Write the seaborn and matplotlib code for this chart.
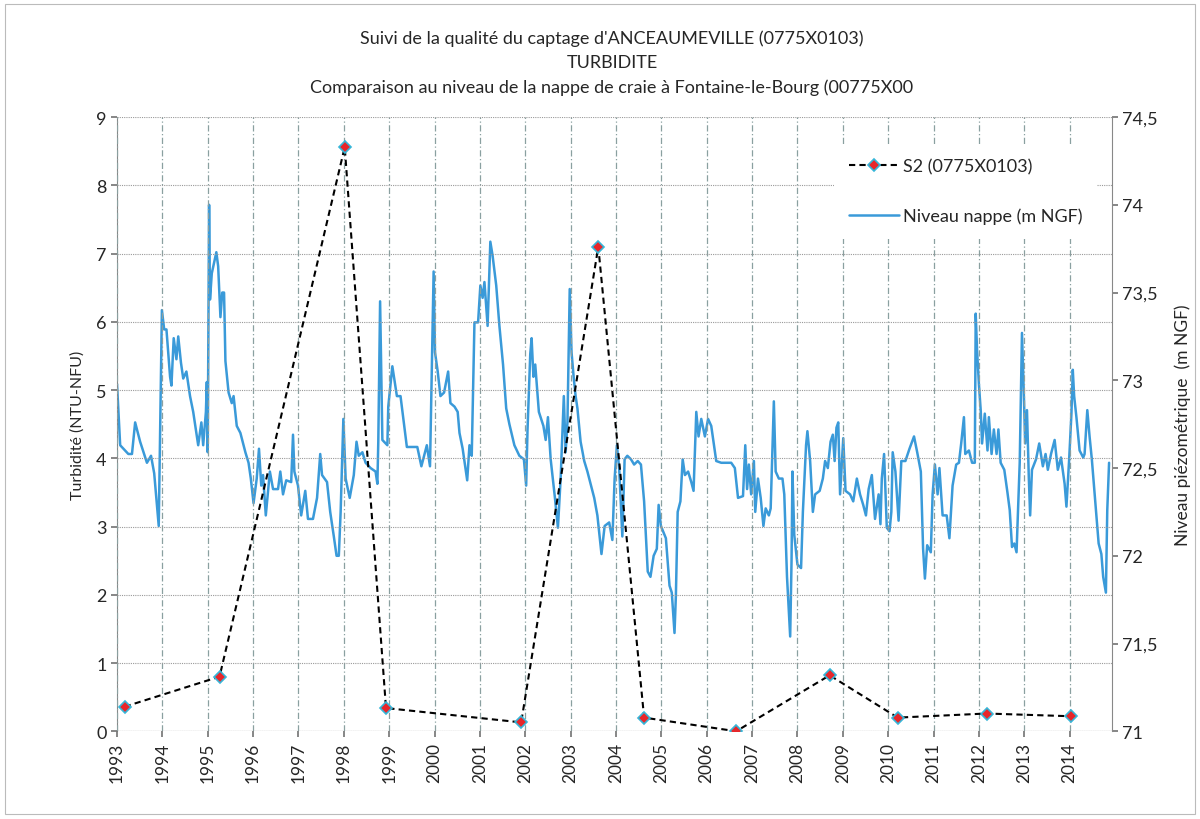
"""Turbidité du captage d'Anceaumeville vs niveau de nappe (Fontaine-le-Bourg)."""

import matplotlib
import numpy as np
import pandas as pd
import seaborn as sns
from matplotlib.ticker import FuncFormatter

matplotlib.use("Agg")
import matplotlib.pyplot as plt

# --- turbidity samples S2 (0775X0103), decimal years ---
s2_year = [1993.17, 1995.26, 1998.02, 1998.93, 2001.91, 2003.61,
           2004.62, 2006.65, 2008.71, 2010.21, 2012.17, 2014.03]
s2_ntu = [0.36, 0.80, 8.56, 0.34, 0.13, 7.10, 0.20, 0.0, 0.82, 0.20, 0.26, 0.22]

# --- piezometric level (m NGF) ---
level_year = [
    1993.00, 1993.07, 1993.25, 1993.33, 1993.40, 1993.51, 1993.66, 1993.75, 1993.82, 1993.92,
    1993.99, 1994.04, 1994.09, 1994.17, 1994.20, 1994.25, 1994.31, 1994.35, 1994.41, 1994.46,
    1994.53, 1994.61, 1994.68, 1994.75, 1994.79, 1994.86, 1994.90, 1994.96, 1994.98, 1995.00,
    1995.03, 1995.05, 1995.09, 1995.14, 1995.19, 1995.23, 1995.28, 1995.32, 1995.36, 1995.39,
    1995.46, 1995.53, 1995.57, 1995.64, 1995.72, 1995.83, 1995.90, 1995.95, 1996.01, 1996.08,
    1996.13, 1996.18, 1996.22, 1996.28, 1996.37, 1996.44, 1996.55, 1996.60, 1996.66, 1996.73,
    1996.84, 1996.88, 1996.91, 1996.99, 1997.06, 1997.15, 1997.21, 1997.32, 1997.41, 1997.48,
    1997.52, 1997.63, 1997.70, 1997.78, 1997.84, 1997.89, 1997.93, 1997.99, 1998.04, 1998.13,
    1998.22, 1998.28, 1998.33, 1998.41, 1998.48, 1998.59, 1998.70, 1998.74, 1998.76, 1998.80,
    1998.85, 1998.96, 1998.98, 1999.07, 1999.17, 1999.25, 1999.39, 1999.62, 1999.71, 1999.83,
    1999.90, 1999.98, 2000.01, 2000.07, 2000.13, 2000.21, 2000.30, 2000.35, 2000.44, 2000.51,
    2000.55, 2000.62, 2000.72, 2000.77, 2000.82, 2000.88, 2000.96, 2001.01, 2001.06, 2001.10,
    2001.17, 2001.23, 2001.28, 2001.36, 2001.43, 2001.51, 2001.58, 2001.65, 2001.76, 2001.87,
    2001.97, 2002.02, 2002.05, 2002.11, 2002.14, 2002.18, 2002.22, 2002.30, 2002.40, 2002.45,
    2002.50, 2002.56, 2002.65, 2002.72, 2002.78, 2002.82, 2002.85, 2002.89, 2002.93, 2002.98,
    2003.02, 2003.07, 2003.11, 2003.15, 2003.22, 2003.30, 2003.37, 2003.45, 2003.52, 2003.59,
    2003.68, 2003.75, 2003.85, 2003.92, 2003.97, 2004.02, 2004.07, 2004.14, 2004.19, 2004.25,
    2004.33, 2004.40, 2004.48, 2004.55, 2004.62, 2004.70, 2004.76, 2004.83, 2004.90, 2004.94,
    2004.99, 2005.10, 2005.18, 2005.23, 2005.29, 2005.32, 2005.36, 2005.42, 2005.47, 2005.52,
    2005.59, 2005.66, 2005.71, 2005.77, 2005.82, 2005.88, 2005.96, 2006.03, 2006.10, 2006.21,
    2006.32, 2006.43, 2006.54, 2006.62, 2006.69, 2006.80, 2006.85, 2006.89, 2006.93, 2006.98,
    2007.04, 2007.07, 2007.13, 2007.19, 2007.25, 2007.30, 2007.37, 2007.41, 2007.48, 2007.52,
    2007.59, 2007.67, 2007.71, 2007.77, 2007.84, 2007.87, 2007.89, 2007.93, 2008.00, 2008.08,
    2008.12, 2008.19, 2008.22, 2008.28, 2008.34, 2008.39, 2008.49, 2008.56, 2008.61, 2008.67,
    2008.73, 2008.78, 2008.82, 2008.86, 2008.90, 2008.94, 2009.01, 2009.06, 2009.16, 2009.23,
    2009.31, 2009.38, 2009.45, 2009.51, 2009.57, 2009.64, 2009.71, 2009.79, 2009.83, 2009.86,
    2009.91, 2009.97, 2010.03, 2010.07, 2010.10, 2010.16, 2010.23, 2010.29, 2010.38, 2010.47,
    2010.57, 2010.64, 2010.72, 2010.77, 2010.81, 2010.86, 2010.94, 2010.98, 2011.03, 2011.09,
    2011.13, 2011.20, 2011.29, 2011.35, 2011.42, 2011.50, 2011.56, 2011.61, 2011.67, 2011.70,
    2011.78, 2011.85, 2011.91, 2011.93, 2011.96, 2012.00, 2012.04, 2012.07, 2012.13, 2012.19,
    2012.22, 2012.28, 2012.33, 2012.39, 2012.43, 2012.48, 2012.56, 2012.63, 2012.68, 2012.73,
    2012.78, 2012.83, 2012.87, 2012.90, 2012.95, 2012.99, 2013.02, 2013.06, 2013.10, 2013.13,
    2013.17, 2013.26, 2013.33, 2013.41, 2013.47, 2013.52, 2013.59, 2013.67, 2013.74, 2013.81,
    2013.89, 2013.93, 2013.99, 2014.04, 2014.07, 2014.10, 2014.15, 2014.22, 2014.30, 2014.33,
    2014.39, 2014.44, 2014.49, 2014.55, 2014.64, 2014.70, 2014.74, 2014.80, 2014.83, 2014.87,
]
level_ngf = [
    72.98, 72.63, 72.58, 72.58, 72.76, 72.65, 72.53, 72.57, 72.47, 72.17,
    73.40, 73.29, 73.29, 73.02, 72.97, 73.24, 73.12, 73.25, 73.10, 73.01,
    73.05, 72.91, 72.82, 72.70, 72.63, 72.76, 72.63, 72.82, 72.99, 72.59,
    74.00, 73.46, 73.61, 73.67, 73.73, 73.65, 73.36, 73.50, 73.50, 73.11,
    72.93, 72.87, 72.91, 72.74, 72.70, 72.59, 72.53, 72.44, 72.30, 72.44,
    72.61, 72.40, 72.46, 72.23, 72.48, 72.38, 72.38, 72.48, 72.35, 72.43,
    72.42, 72.69, 72.48, 72.40, 72.23, 72.37, 72.21, 72.21, 72.33, 72.58,
    72.46, 72.42, 72.25, 72.11, 72.00, 72.00, 72.25, 72.78, 72.44, 72.33,
    72.46, 72.65, 72.57, 72.59, 72.53, 72.50, 72.48, 72.41, 72.65, 73.45,
    72.66, 72.63, 72.85, 73.08, 72.91, 72.91, 72.62, 72.62, 72.51, 72.63,
    72.51, 73.62, 73.16, 73.05, 72.91, 72.93, 73.05, 72.87, 72.85, 72.82,
    72.70, 72.61, 72.43, 72.63, 72.57, 73.33, 73.33, 73.54, 73.47, 73.56,
    73.31, 73.79, 73.71, 73.54, 73.31, 73.09, 72.84, 72.75, 72.63, 72.57,
    72.55, 72.40, 72.72, 73.15, 73.24, 73.02, 73.09, 72.82, 72.74, 72.66,
    72.79, 72.55, 72.34, 72.16, 72.44, 72.70, 72.91, 72.59, 72.76, 73.52,
    73.16, 73.01, 72.91, 72.84, 72.65, 72.54, 72.48, 72.40, 72.33, 72.23,
    72.01, 72.17, 72.19, 72.09, 72.44, 72.63, 72.50, 72.11, 72.55, 72.57,
    72.55, 72.52, 72.54, 72.52, 72.31, 71.91, 71.88, 72.00, 72.04, 72.29,
    72.17, 72.10, 71.83, 71.79, 71.56, 71.77, 72.25, 72.31, 72.55, 72.46,
    72.48, 72.42, 72.37, 72.82, 72.68, 72.78, 72.68, 72.78, 72.74, 72.54,
    72.53, 72.53, 72.53, 72.50, 72.33, 72.34, 72.63, 72.38, 72.52, 72.35,
    72.54, 72.25, 72.44, 72.33, 72.17, 72.27, 72.23, 72.27, 72.88, 72.48,
    72.44, 72.44, 72.35, 71.88, 71.54, 71.97, 72.48, 72.12, 71.95, 71.93,
    72.25, 72.63, 72.71, 72.54, 72.25, 72.35, 72.37, 72.44, 72.54, 72.50,
    72.65, 72.69, 72.54, 72.73, 72.76, 72.35, 72.67, 72.37, 72.35, 72.31,
    72.44, 72.35, 72.29, 72.23, 72.38, 72.46, 72.21, 72.35, 72.18, 72.44,
    72.58, 72.16, 72.14, 72.25, 72.59, 72.48, 72.20, 72.54, 72.54, 72.61,
    72.68, 72.59, 72.48, 72.04, 71.87, 72.06, 72.02, 72.35, 72.52, 72.35,
    72.50, 72.23, 72.23, 72.10, 72.40, 72.52, 72.53, 72.64, 72.79, 72.58,
    72.60, 72.53, 72.53, 73.38, 73.17, 72.98, 72.83, 72.64, 72.81, 72.60,
    72.79, 72.58, 72.72, 72.58, 72.72, 72.53, 72.49, 72.36, 72.26, 72.05,
    72.07, 72.02, 72.32, 72.53, 73.27, 72.93, 72.64, 72.83, 72.45, 72.23,
    72.49, 72.55, 72.64, 72.51, 72.58, 72.49, 72.58, 72.66, 72.49, 72.56,
    72.41, 72.28, 72.55, 72.81, 73.06, 72.91, 72.79, 72.60, 72.56, 72.58,
    72.83, 72.68, 72.55, 72.36, 72.07, 72.01, 71.88, 71.79, 72.26, 72.53,
]

year_ticks = list(range(1993, 2015))
ngf_ticks = [71, 71.5, 72, 72.5, 73, 73.5, 74, 74.5]

title_lines = [
    "Suivi de la qualité du captage d'ANCEAUMEVILLE (0775X0103)",
    "TURBIDITE",
    "Comparaison au niveau de la nappe de craie à Fontaine-le-Bourg (00775X00",
]

s2 = pd.DataFrame({"annee": s2_year, "turbidite": s2_ntu})
nappe = pd.DataFrame({"annee": level_year, "niveau": level_ngf})

sns.set_theme(style="white")
plt.rcParams["font.family"] = ["Lato", "DejaVu Sans"]

fig = plt.figure(figsize=(12, 8.2), dpi=100)
ax = fig.add_axes([0.0975, 0.107, 0.829, 0.749])
ax2 = ax.twinx()

sns.lineplot(data=nappe, x="annee", y="niveau", ax=ax2, color="#3a9ad9",
             linewidth=1.8, label="Niveau nappe (m NGF)", legend=False)
sns.lineplot(data=s2, x="annee", y="turbidite", ax=ax, color="black",
             linewidth=1.5, linestyle=(0, (3, 2)), marker="D", markersize=6,
             markerfacecolor="#e8262a", markeredgecolor="#36b6d8",
             markeredgewidth=1.2, label="S2 (0775X0103)", legend=False)

# primary axis in front so the dashed series sits over the level curve
ax.set_zorder(ax2.get_zorder() + 1)
ax.patch.set_visible(False)

ax.set_xlim(1993, 2014.93)
ax.set_ylim(0, 9)
ax2.set_ylim(71, 74.5)
ax.set_xticks(year_ticks)
ax.set_xticklabels([str(y) for y in year_ticks], rotation=90, fontsize=12.5)
ax.set_yticks(np.arange(0, 10))
ax.tick_params(axis="y", labelsize=13, length=4, left=True, color="#777777")
ax.tick_params(axis="x", length=4, bottom=True, color="#777777")
ax2.set_yticks(ngf_ticks)
ax2.yaxis.set_major_formatter(FuncFormatter(lambda v, _: f"{v:g}".replace(".", ",")))
ax2.tick_params(axis="y", labelsize=13, length=4, right=True, color="#777777")

ax.grid(axis="y", color="#9a9a9a", linewidth=0.8, linestyle=(0, (1, 1)))
ax.grid(axis="x", color="#8aa0a0", linewidth=0.9, linestyle=(0, (5, 2, 1, 2)))

for spine in ax.spines.values():
    spine.set_visible(False)
for side in ["top", "bottom"]:
    ax2.spines[side].set_visible(False)
for side in ["left", "right"]:
    ax2.spines[side].set_color("#888888")
    ax2.spines[side].set_linewidth(0.8)
ax.axhline(0, color="#888888", linewidth=0.8)

ax.set_xlabel("")
ax.set_ylabel("Turbidité (NTU-NFU)", fontsize=11.5, labelpad=8)
ax2.set_ylabel("Niveau piézométrique  (m NGF)", fontsize=12.5, labelpad=12)

for i, line in enumerate(title_lines):
    fig.text(0.51, 0.953 - i * 0.030, line, ha="center", va="center", fontsize=13)

handles = ax.get_legend_handles_labels()[0] + ax2.get_legend_handles_labels()[0]
labels = ax.get_legend_handles_labels()[1] + ax2.get_legend_handles_labels()[1]
leg = ax.legend(handles, labels, loc="upper left", bbox_to_anchor=(0.712, 0.971),
                prop={"size": 13}, frameon=True, facecolor="white", edgecolor="none",
                framealpha=1, handlelength=2.8, handletextpad=0.2,
                labelspacing=1.85, borderpad=0.8)

fig.patches.append(plt.Rectangle((0.004, 0.006), 0.992, 0.988, transform=fig.transFigure,
                                 fill=False, edgecolor="#bbbbbb", linewidth=0.8))

plt.savefig("out.png", dpi=100)
plt.close()
